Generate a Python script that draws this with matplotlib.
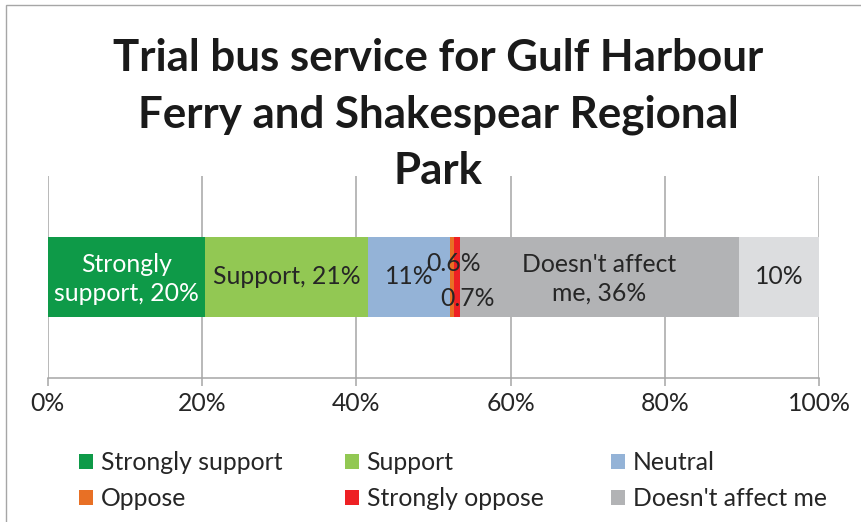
import matplotlib
matplotlib.use("Agg")
import matplotlib.pyplot as plt
from matplotlib.patches import Patch, Rectangle

plt.rcParams['font.family'] = ['Lato', 'DejaVu Sans']

# survey shares (%), left to right
categories = ["Strongly support", "Support", "Neutral", "Oppose",
              "Strongly oppose", "Doesn't affect me", "Other"]
values = [20.4, 21.1, 10.6, 0.6, 0.7, 36.2, 10.4]
label_names = ["Strongly\nsupport", "Support", "", "", "", "Doesn't affect\nme", ""]
in_legend = [True, True, True, True, True, True, False]
colors = ["#0E9A48", "#92C853", "#94B3D7", "#E87025", "#EE2024", "#B2B3B5", "#DCDDDF"]
label_colors = ["white", "#262626", "#262626", "#262626", "#262626", "#262626", "#262626"]
# label offsets in pixels for the tiny segments
label_offsets = [(0, -2), (0, 0), (0, 0), (1.5, 13.5), (10.5, -21.5), (0, -2), (0, 0)]
xticks = [0, 20, 40, 60, 80, 100]
title_lines = ["Trial bus service for Gulf Harbour",
               "Ferry and Shakespear Regional", "Park"]
title_baselines = [71, 127.5, 184]

W, H = 861, 522
fig = plt.figure(figsize=(W / 100, H / 100), dpi=100)
ax = fig.add_axes([47.7 / W, 1 - 378 / H, (819.2 - 47.7) / W, (378 - 176) / H])

grid_col = "#A6A6A6"
txt_col = "#262626"
fs = 17.8

left = 0
handles = []
for i, v in enumerate(values):
    ax.barh(0, v, left=left, height=0.4, color=colors[i], zorder=3)
    pct = f"{v:.1f}%" if v < 1 else f"{v:.0f}%"
    lab = f"{label_names[i]}, {pct}" if label_names[i] else pct
    dx, dy = label_offsets[i]
    ax.annotate(lab, (left + v / 2, 0), xytext=(dx * 0.72, dy * 0.72),
                textcoords="offset points", ha="center", va="center",
                fontsize=fs, color=label_colors[i], zorder=5, linespacing=1.3)
    if in_legend[i]:
        handles.append(Patch(facecolor=colors[i], label=categories[i]))
    left += v

ax.set_xlim(0, 100)
ax.set_ylim(-0.5, 0.5)
ax.set_xticks(xticks)
ax.set_xticklabels([f"{t}%" for t in xticks])
ax.set_yticks([])
ax.grid(axis="x", color=grid_col, lw=1.1, zorder=0)
for s in ["top", "right", "left"]:
    ax.spines[s].set_visible(False)
ax.spines["bottom"].set_color(grid_col)
ax.spines["bottom"].set_linewidth(1.1)
ax.spines["bottom"].set_zorder(4)
ax.tick_params(axis="x", length=6, width=1.1, color=grid_col, pad=4,
               labelsize=fs, labelcolor=txt_col)

for line, yb in zip(title_lines, title_baselines):
    fig.text(438 / W, 1 - yb / H, line, ha="center", va="baseline", fontsize=31.6,
             fontweight="bold", color="#1a1a1a")

# legend laid out in three columns
col_x = [79, 345, 611]
for c in range(3):
    leg = fig.legend(handles=[handles[c], handles[c + 3]], loc="upper left",
                     bbox_to_anchor=(col_x[c] / W, 1 - 451 / H), frameon=False,
                     fontsize=fs, handlelength=0.57, handleheight=0.57,
                     handletextpad=0.3, labelspacing=0.52, borderpad=0,
                     borderaxespad=0, labelcolor=txt_col)

fig.patches.append(Rectangle((5.5 / W, -0.5), 2, 1.5 - 4.5 / H,
                             transform=fig.transFigure, fill=False,
                             edgecolor="#A6A6A6", lw=1))

fig.savefig("out.png", dpi=100)
